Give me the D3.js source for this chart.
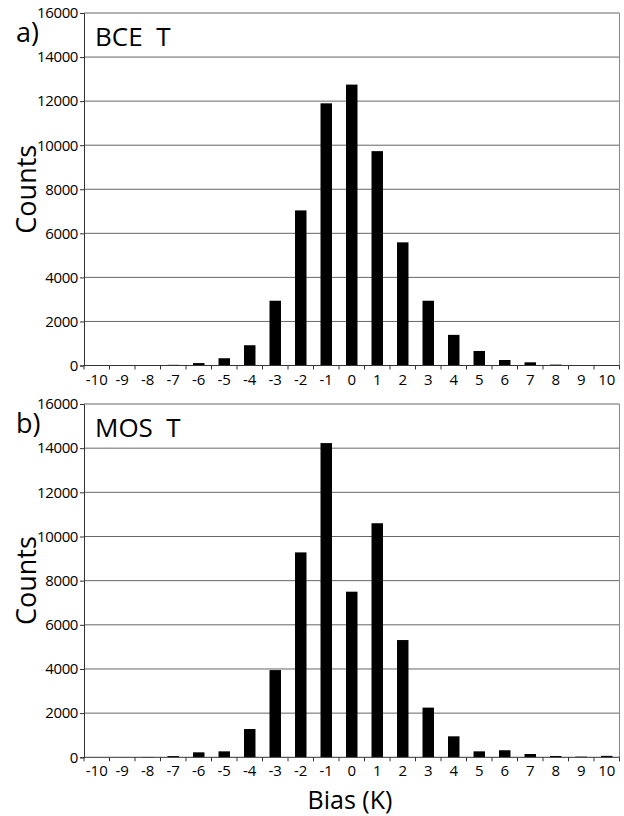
<!DOCTYPE html>
<html>
<head>
<meta charset="utf-8">
<script src="https://cdn.jsdelivr.net/npm/d3@7"></script>
<style>
  html, body { margin: 0; padding: 0; background: #fff; }
  svg { display: block; }
  text { font-family: "Open Sans", "Noto Sans", sans-serif; fill: #000; }
</style>
</head>
<body>
<svg id="chart" width="624" height="816"></svg>
<script>
// ---- data ----
const categories = [-10,-9,-8,-7,-6,-5,-4,-3,-2,-1,0,1,2,3,4,5,6,7,8,9,10];
const bceCounts  = [0, 5, 10, 30, 110, 330, 920, 2940, 7040, 11900, 12750, 9730, 5590, 2940, 1390, 660, 250, 145, 40, 15, 15];
const mosCounts  = [0, 5, 15, 55, 225, 270, 1280, 3950, 9280, 14230, 7500, 10600, 5310, 2250, 950, 270, 320, 150, 60, 30, 65];
const yTicks = [0, 2000, 4000, 6000, 8000, 10000, 12000, 14000, 16000];
const panelLetters = ["a)", "b)"];
const panelTitles = ["BCE  T", "MOS  T"];
const yLabel = "Counts";
const xLabel = "Bias (K)";

const svg = d3.select("#chart");
const left = 84, right = 619.5;
const panels = [
  { letter: panelLetters[0], title: panelTitles[0], values: bceCounts, top: 13, bottom: 365.5 },
  { letter: panelLetters[1], title: panelTitles[1], values: mosCounts, top: 404, bottom: 757.3 }
];

const x = d3.scaleBand().domain(categories).range([left, right]).paddingInner(0.55).paddingOuter(0.275);
const xb = d3.scaleLinear().domain([0, categories.length]).range([left, right]);

panels.forEach(p => {
  const g = svg.append("g");
  const y = d3.scaleLinear().domain([0, 16000]).range([p.bottom, p.top]);

  // gridlines
  g.selectAll("line.grid").data(yTicks.filter(t => t > 0)).join("line")
    .attr("x1", left).attr("x2", right)
    .attr("y1", d => y(d)).attr("y2", d => y(d))
    .attr("stroke", "#666").attr("stroke-width", 1);
  // right frame
  g.append("line").attr("x1", right).attr("x2", right).attr("y1", p.top).attr("y2", p.bottom)
    .attr("stroke", "#888").attr("stroke-width", 1);

  // bars
  g.selectAll("rect.bar").data(p.values).join("rect")
    .attr("x", (d, i) => x(categories[i]))
    .attr("width", x.bandwidth())
    .attr("y", d => y(d))
    .attr("height", d => y(0) - y(d))
    .attr("fill", "#000");

  // y axis
  const ya = d3.axisLeft(y).tickValues(yTicks).tickSize(4).tickPadding(2).tickFormat(d3.format("d"));
  const yg = g.append("g").attr("transform", `translate(${left},0)`).call(ya);
  yg.select(".domain").attr("stroke", "#333");
  yg.selectAll(".tick line").attr("stroke", "#333");
  yg.selectAll("text").attr("font-size", 15).attr("font-family", "Open Sans").attr("letter-spacing", -0.4).attr("fill", "#000");

  // x axis baseline and boundary ticks
  g.append("line").attr("x1", left).attr("x2", right).attr("y1", y(0)).attr("y2", y(0))
    .attr("stroke", "#333").attr("stroke-width", 1);
  g.selectAll("line.xt").data(d3.range(categories.length + 1)).join("line")
    .attr("x1", d => xb(d)).attr("x2", d => xb(d))
    .attr("y1", y(0)).attr("y2", y(0) + 4)
    .attr("stroke", "#333");
  g.selectAll("text.xl").data(categories).join("text")
    .attr("x", d => x(d) + x.bandwidth() / 2)
    .attr("y", y(0) + 19)
    .attr("text-anchor", "middle")
    .attr("font-size", 15)
    .text(d => d);

  // panel letter and title
  g.append("text").attr("x", 16).attr("y", p.top + 29).attr("font-size", 27).text(p.letter);
  g.append("text").attr("x", 95).attr("y", p.top + 33).attr("font-size", 26).attr("xml:space", "preserve")
    .style("white-space", "pre").text(p.title);

  // y label
  g.append("text")
    .attr("transform", `translate(36,${(p.top + p.bottom) / 2}) rotate(-90)`)
    .attr("text-anchor", "middle").attr("font-size", 27).text(yLabel);
});

svg.append("text").attr("x", 350).attr("y", 809).attr("text-anchor", "middle")
  .attr("font-size", 25).text(xLabel);
</script>
</body>
</html>
